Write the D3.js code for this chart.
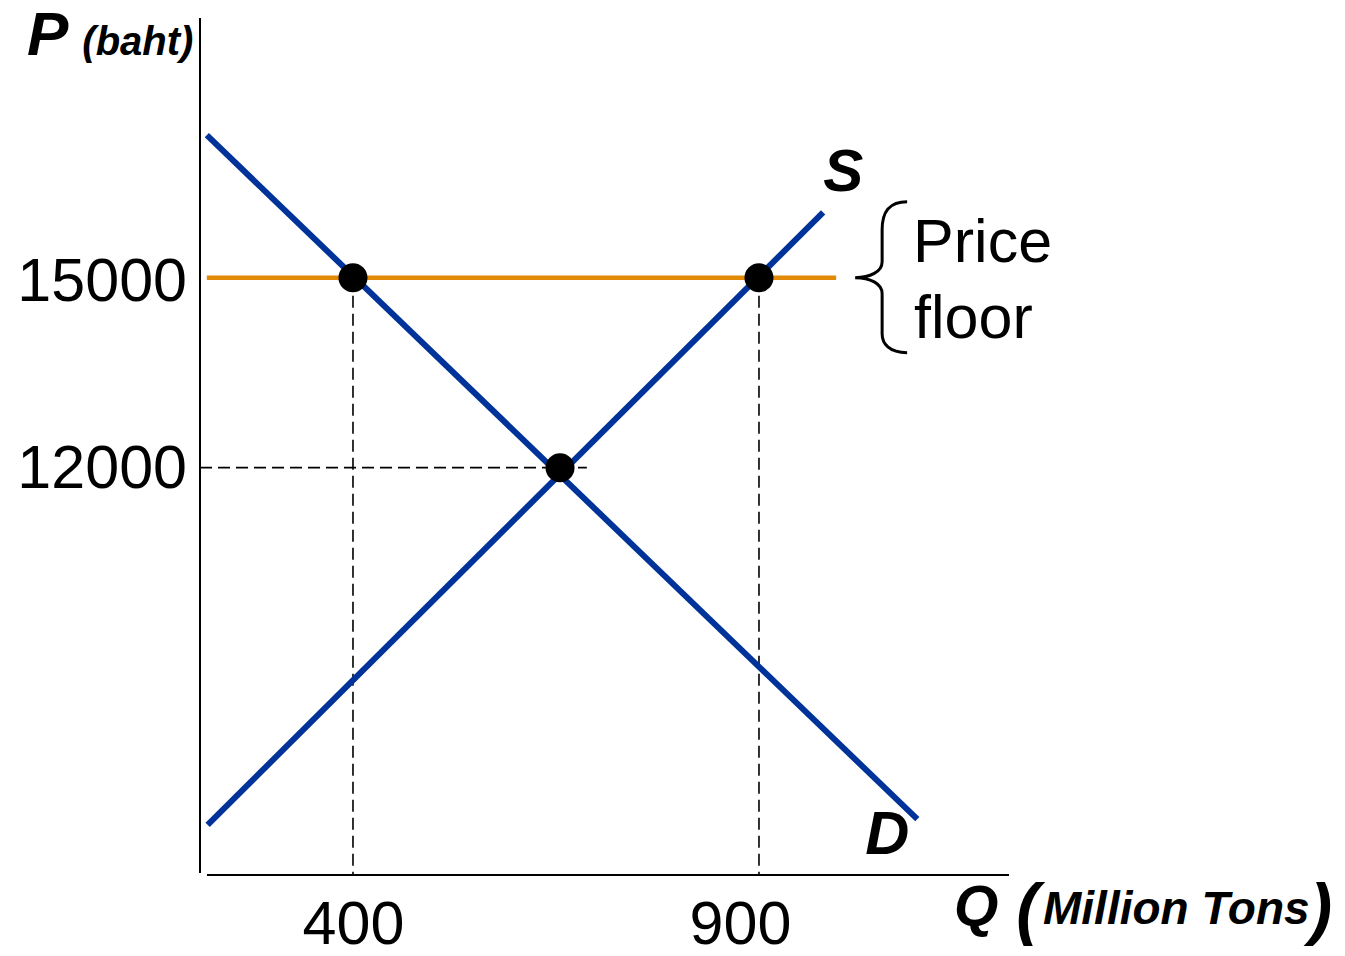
<!DOCTYPE html>
<html>
<head>
<meta charset="utf-8">
<script src="https://cdn.jsdelivr.net/npm/d3@7"></script>
<style>
  body { margin: 0; background: #fff; }
  svg { display: block; font-family: "Liberation Sans", Arial, sans-serif; }
  .tick text { font-size: 61px; fill: #000; }
</style>
</head>
<body>
<div class="chart__container"></div>
<script>
//data
const demandLine = [[220, 17250], [1095, 6450]];
const supplyLine = [[221, 6360], [979, 16030]];
const priceFloor = 15000;
const floorRange = [220, 995];
const marketPoints = [[400, 15000], [900, 15000], [655, 12000]];
const quantityTicks = [400, 900];
const priceTicks = [15000, 12000];
const eqLineEnd = 688;

//chart
const defineChart = () => {
    const margin = { top: 18, right: 336, bottom: 83, left: 200 };
    const width = 1345;
    const height = 956;
    const widthChart = width - margin.left - margin.right;
    const heightChart = height - margin.top - margin.bottom;

    //scales
    const xScale = d3.scaleLinear()
        .domain([211.6, 1207.9])
        .range([0, widthChart]);
    const yScale = d3.scaleLinear()
        .domain([5600, 19100])
        .range([heightChart, 0]);

    const svg = d3.select('.chart__container')
        .append('svg')
        .attr('width', width)
        .attr('height', height)
        .append('g')
        .attr('transform', `translate(${margin.left}, ${margin.top})`);

    const line = d3.line()
        .x(d => xScale(d[0]))
        .y(d => yScale(d[1]));

    // axis lines
    svg.append('line')
        .attr('x1', 0).attr('x2', 0)
        .attr('y1', 0).attr('y2', heightChart)
        .attr('stroke', '#000').attr('stroke-width', 2);
    svg.append('line')
        .attr('x1', 7).attr('x2', widthChart)
        .attr('y1', heightChart + 2).attr('y2', heightChart + 2)
        .attr('stroke', '#000').attr('stroke-width', 2);

    // dashed guides
    const guides = svg.append('g')
        .attr('stroke', '#000')
        .attr('stroke-width', 1.6)
        .attr('stroke-dasharray', '12,6')
        .attr('fill', 'none');
    guides.selectAll('line.v')
        .data(marketPoints.slice(0, 2))
        .join('line')
        .attr('class', 'v')
        .attr('x1', d => xScale(d[0])).attr('x2', d => xScale(d[0]))
        .attr('y1', d => yScale(d[1])).attr('y2', heightChart + 1);
    guides.append('line')
        .attr('x1', 0).attr('x2', xScale(eqLineEnd))
        .attr('y1', yScale(marketPoints[2][1])).attr('y2', yScale(marketPoints[2][1]));

    // price floor
    svg.append('path')
        .attr('d', line(floorRange.map(q => [q, priceFloor])))
        .attr('stroke', '#e08a05')
        .attr('stroke-width', 4.5)
        .attr('fill', 'none');

    // demand and supply
    svg.selectAll('path.curve')
        .data([demandLine, supplyLine])
        .join('path')
        .attr('class', 'curve')
        .attr('d', line)
        .attr('stroke', '#003399')
        .attr('stroke-width', 6)
        .attr('fill', 'none');

    // points
    svg.selectAll('circle')
        .data(marketPoints)
        .join('circle')
        .attr('cx', d => xScale(d[0]))
        .attr('cy', d => yScale(d[1]))
        .attr('r', 14.5)
        .attr('fill', '#000');

    // tick labels
    const xAxis = d3.axisBottom(xScale)
        .tickValues(quantityTicks)
        .tickSize(0)
        .tickPadding(26);
    const xAxisDraw = svg.append('g')
        .attr('transform', `translate(0,${heightChart + 2})`)
        .call(xAxis);
    xAxisDraw.select('.domain').remove();
    xAxisDraw.selectAll('.tick text')
        .attr('dx', d => d === 900 ? -19 : 0);

    const yAxis = d3.axisLeft(yScale)
        .tickValues(priceTicks)
        .tickFormat(d3.format('d'))
        .tickSize(0)
        .tickPadding(13);
    const yAxisDraw = svg.append('g').call(yAxis);
    yAxisDraw.select('.domain').remove();
    yAxisDraw.selectAll('.tick text').attr('dy', d => d === 15000 ? '0.38em' : '0.33em');

    // brace for price floor
    const yf = yScale(priceFloor);
    const bx = xScale(floorRange[1]) + 19;
    svg.append('path')
        .attr('d', `M${bx + 52},${yf - 76} C${bx + 34},${yf - 76} ${bx + 27},${yf - 66} ${bx + 27},${yf - 48}
                    L${bx + 27},${yf - 16} C${bx + 27},${yf - 6} ${bx + 15},${yf} ${bx},${yf}
                    C${bx + 15},${yf} ${bx + 27},${yf + 6} ${bx + 27},${yf + 16}
                    L${bx + 27},${yf + 56} C${bx + 27},${yf + 66} ${bx + 34},${yf + 75} ${bx + 52},${yf + 75}`)
        .attr('stroke', '#000')
        .attr('stroke-width', 3)
        .attr('fill', 'none');

    const floorLabel = svg.append('text')
        .attr('x', bx + 58)
        .attr('y', yf - 16)
        .style('font-size', '61px');
    floorLabel.append('tspan').text('Price');
    floorLabel.append('tspan').attr('x', bx + 59).attr('dy', 76).text('floor');

    // curve labels
    svg.append('text')
        .attr('x', xScale(supplyLine[1][0]) + 0)
        .attr('y', yScale(supplyLine[1][1]) - 21)
        .style('font-size', '60px').style('font-weight', 'bold').style('font-style', 'italic')
        .text('S');
    svg.append('text')
        .attr('x', xScale(demandLine[1][0]) - 52)
        .attr('y', yScale(demandLine[1][1]) + 35)
        .style('font-size', '61px').style('font-weight', 'bold').style('font-style', 'italic')
        .text('D');

    // axis titles
    const pTitle = svg.append('text')
        .attr('x', -173)
        .attr('y', 37)
        .style('font-weight', 'bold').style('font-style', 'italic');
    pTitle.append('tspan').style('font-size', '62px').text('P');
    pTitle.append('tspan').attr('dx', 14).style('font-size', '40px').text('(baht)');

    const qTitle = svg.append('text')
        .attr('x', 754)
        .attr('y', heightChart + 53)
        .style('font-weight', 'bold').style('font-style', 'italic');
    qTitle.append('tspan').style('font-size', '57px').text('Q');
    qTitle.append('tspan').attr('dx', 18).attr('dy', 6).style('font-size', '68px').text('(');
    qTitle.append('tspan').attr('dx', 4).attr('dy', -8).style('font-size', '46px').text('Million Tons');
    qTitle.append('tspan').attr('dy', 8).style('font-size', '68px').text(')');
}

defineChart();
</script>
</body>
</html>
